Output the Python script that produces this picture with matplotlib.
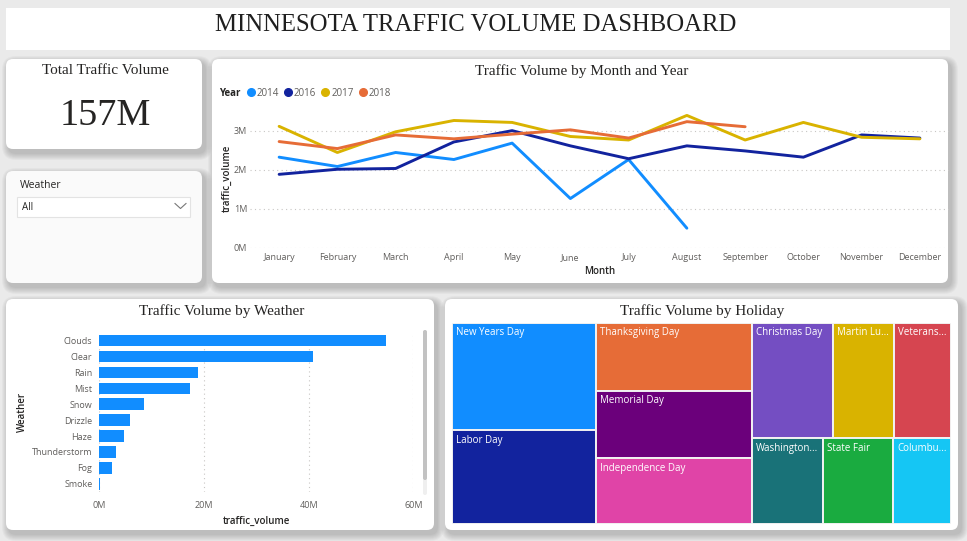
"""Minnesota traffic volume dashboard, rebuilt as a single matplotlib figure."""

import matplotlib
matplotlib.use("Agg")
import matplotlib.pyplot as plt
from matplotlib.patches import FancyBboxPatch, Rectangle
from matplotlib.lines import Line2D
from matplotlib.ticker import FuncFormatter
import numpy as np


MONTHS = ["January", "February", "March", "April", "May", "June", "July",
          "August", "September", "October", "November", "December"]
YEARS = ["2014", "2016", "2017", "2018"]
VOL_2014 = [2.32e6, 2.08e6, 2.44e6, 2.26e6, 2.68e6, 1.26e6, 2.26e6, 0.50e6]
VOL_2016 = [1.88e6, 2.01e6, 2.03e6, 2.71e6, 3.00e6, 2.61e6, 2.28e6, 2.61e6,
            2.48e6, 2.32e6, 2.89e6, 2.81e6]
VOL_2017 = [3.11e6, 2.44e6, 2.97e6, 3.26e6, 3.21e6, 2.85e6, 2.76e6, 3.39e6,
            2.76e6, 3.21e6, 2.83e6, 2.79e6]
VOL_2018 = [2.72e6, 2.54e6, 2.89e6, 2.79e6, 2.91e6, 3.02e6, 2.81e6, 3.23e6, 3.10e6]

WEATHER = ["Clouds", "Clear", "Rain", "Mist", "Snow", "Drizzle", "Haze",
           "Thunderstorm", "Fog", "Smoke"]
WEATHER_VOL = [54.8e6, 40.9e6, 18.8e6, 17.4e6, 8.6e6, 5.9e6, 4.7e6, 3.1e6, 2.4e6, 0.2e6]

HOLIDAYS = ["New Years Day", "Labor Day", "Thanksgiving Day", "Memorial Day",
            "Independence Day", "Christmas Day", "Martin Luther King Jr Day",
            "Veterans Day", "Washingtons Birthday", "State Fair", "Columbus Day"]
HOLIDAY_VOL = [15420, 13550, 10590, 10520, 10280, 9430, 7020, 6560, 6110, 6020, 4990]

TOTAL_LABEL = "157M"
SLICER_VALUE = "All"

# treemap arrangement (indexes into HOLIDAYS), nested levels alternate direction
TREE_GROUPS = [[0, 1], [2, 3, 4], [[5, 6, 7], [8, 9, 10]]]

W, H = 967, 541
BG = "#EAEAEA"
SERIF = "Liberation Serif"
SANS = ["Open Sans", "DejaVu Sans"]
DARK = "#252423"
GREY = "#605E5C"
YEAR_COLORS = ["#118DFF", "#12239E", "#D9B300", "#E66C37"]
HOLIDAY_COLORS = ["#118DFF", "#12239E", "#E66C37", "#6B007B", "#E044A7", "#744EC2",
                  "#D9B300", "#D64550", "#197278", "#1AAB40", "#15C6F4"]

plt.rcParams["font.family"] = SANS


def frac(x0, y0, x1, y1):
    return [x0 / W, 1 - y1 / H, (x1 - x0) / W, (y1 - y0) / H]


def millions(v, _pos):
    return f"{v / 1e6:.0f}M"


fig = plt.figure(figsize=(W / 100, H / 100), dpi=100, facecolor=BG)
bg = fig.add_axes([0, 0, 1, 1])
bg.set_xlim(0, W)
bg.set_ylim(H, 0)
bg.axis("off")


def card(x0, y0, x1, y1, face="white", r=7, shadow=True):
    if shadow:
        # soft drop shadow, heavier toward the lower right
        for grow in range(7, 0, -1):
            bg.add_patch(FancyBboxPatch(
                (x0 + 3 - grow, y0 + 4 - grow), x1 - x0 + 2 * grow, y1 - y0 + 2 * grow,
                boxstyle=f"round,pad=0,rounding_size={r + grow}",
                fc="black", ec="none", alpha=0.028))
    bg.add_patch(FancyBboxPatch((x0, y0), x1 - x0, y1 - y0,
                                boxstyle=f"round,pad=0,rounding_size={r}",
                                fc=face, ec="none"))


# header bar
bg.add_patch(Rectangle((6, 8), 944, 42, fc="white", ec="none"))
bg.text(476, 25, "MINNESOTA TRAFFIC VOLUME DASHBOARD", family=SERIF, fontsize=17.8,
        color="#1F1F1F", ha="center", va="center")

# KPI card
card(6, 59, 202, 149)
bg.text(105, 71, "Total Traffic Volume", family=SERIF, fontsize=11, color=DARK,
        ha="center", va="center")
bg.text(105, 116, TOTAL_LABEL, family=SERIF, fontsize=27.5, color=DARK,
        ha="center", va="center")

# weather slicer card
card(6, 171, 202, 283, face="#FAFAFA")
bg.text(20, 185, "Weather", fontsize=7.5, color=DARK, ha="left", va="center")
bg.add_patch(Rectangle((17, 197), 173, 20, fc="white", ec="#E3E3E3", lw=0.8))
bg.text(22, 208, SLICER_VALUE, fontsize=7, color=DARK, ha="left", va="center")
bg.plot([175, 180.5, 186], [203.5, 208.5, 203.5], color="#777777", lw=0.8)

# chart cards
card(212, 59, 948, 283)
card(6, 299, 434, 530)
card(445, 299, 958, 530)

# ---- line chart
bg.text(582, 71, "Traffic Volume by Month and Year", family=SERIF, fontsize=11,
        color=DARK, ha="center", va="center")
ax = fig.add_axes(frac(250, 108, 949, 247.7))
ax.set_facecolor("none")
x = np.arange(len(MONTHS))
for vals, color in zip([VOL_2014, VOL_2016, VOL_2017, VOL_2018], YEAR_COLORS):
    ax.plot(x[:len(vals)], vals, color=color, lw=2.1, solid_joinstyle="round",
            solid_capstyle="round")
ax.set_xlim(-0.5, 11.5)
ax.set_ylim(0, 3.58e6)
ax.set_yticks([0, 1e6, 2e6, 3e6])
ax.yaxis.set_major_formatter(FuncFormatter(millions))
ax.set_xticks(x, MONTHS)
ax.tick_params(length=0, labelsize=6.5, labelcolor=GREY)
ax.tick_params(axis="x", pad=4)
ax.tick_params(axis="y", pad=2)
ax.grid(axis="y", color="#C8C6C4", ls=(0, (1, 3)), lw=0.8)
for s in ax.spines.values():
    s.set_visible(False)
ax.set_xlabel("Month", fontsize=7, color=DARK, fontweight="semibold", labelpad=3)
ax.set_ylabel("traffic_volume", fontsize=7, color=DARK, fontweight="semibold", labelpad=1)

bg.text(219, 93, "Year", fontsize=7, fontweight="bold", color=DARK, ha="left", va="center")
handles = [Line2D([], [], marker="o", ls="", color=c, markersize=5.5) for c in YEAR_COLORS]
fig.legend(handles, YEARS, loc="center left", bbox_to_anchor=(240 / W, 1 - 93 / H),
           ncol=4, frameon=False, fontsize=7, handletextpad=0.0, columnspacing=0.35,
           handlelength=1.2, borderpad=0, labelcolor=GREY)

# ---- weather bar chart
bg.text(222, 311, "Traffic Volume by Weather", family=SERIF, fontsize=11,
        color=DARK, ha="center", va="center")
bx = fig.add_axes(frac(99.3, 332.7, 413.3, 491.7))
bx.set_facecolor("none")
yy = np.arange(len(WEATHER))
bx.barh(yy, WEATHER_VOL, height=0.73, color="#118DFF", zorder=2)
bx.set_ylim(len(WEATHER) - 0.5, -0.5)
bx.set_xlim(0, 60e6)
bx.set_xticks([0, 20e6, 40e6, 60e6])
bx.xaxis.set_major_formatter(FuncFormatter(millions))
bx.set_yticks(yy, WEATHER)
bx.tick_params(length=0, labelsize=6.5, labelcolor=GREY)
bx.tick_params(axis="x", pad=7)
bx.tick_params(axis="y", pad=5)
bx.grid(axis="x", color="#C8C6C4", ls=(0, (1, 3)), lw=0.8)
for s in bx.spines.values():
    s.set_visible(False)
bx.set_xlabel("traffic_volume", fontsize=7, color=DARK, fontweight="semibold", labelpad=4)
bx.set_ylabel("Weather", fontsize=7, color=DARK, fontweight="semibold", labelpad=3)
# scrollbar
bg.add_patch(FancyBboxPatch((423, 330), 4, 165, boxstyle="round,pad=0,rounding_size=2",
                            fc="#EFEFEF", ec="none"))
bg.add_patch(FancyBboxPatch((423, 330), 4, 150, boxstyle="round,pad=0,rounding_size=2",
                            fc="#C2C2C2", ec="none"))

# ---- holiday treemap
bg.text(702, 311, "Traffic Volume by Holiday", family=SERIF, fontsize=11,
        color=DARK, ha="center", va="center")
tx0, ty0, tx1, ty1 = 452, 322.7, 951, 524.3
tm = fig.add_axes(frac(tx0, ty0, tx1, ty1))
tm.set_xlim(0, tx1 - tx0)
tm.set_ylim(ty1 - ty0, 0)
tm.axis("off")


def group_total(g):
    return sum(group_total(s) for s in g) if isinstance(g, list) else HOLIDAY_VOL[g]


def layout(groups, rx, ry, rw, rh, horizontal, out):
    total = sum(group_total(g) for g in groups)
    pos = 0.0
    for g in groups:
        share = group_total(g) / total
        if horizontal:
            box = (rx + pos * rw, ry, share * rw, rh)
        else:
            box = (rx, ry + pos * rh, rw, share * rh)
        pos += share
        if isinstance(g, list):
            layout(g, *box, not horizontal, out)
        else:
            out.append((g, box))


cells = []
layout(TREE_GROUPS, 0, 0, tx1 - tx0, ty1 - ty0, True, cells)
renderer = fig.canvas.get_renderer()
for idx, (cx, cy, cw, ch) in cells:
    tm.add_patch(Rectangle((cx, cy), cw, ch, fc=HOLIDAY_COLORS[idx], ec="#F2F2F2", lw=1.4))
    name = HOLIDAYS[idx]
    label = tm.text(cx + 4, cy + 10, name, fontsize=7, color="white", ha="left",
                    va="center", clip_on=True)
    limit = cw - 6
    cut = len(name)
    while label.get_window_extent(renderer).width > limit and cut > 1:
        cut -= 1
        label.set_text(name[:cut].rstrip() + ("..." if name[cut - 1] != " " else " ..."))

fig.savefig("out.png", dpi=100, facecolor=BG)
